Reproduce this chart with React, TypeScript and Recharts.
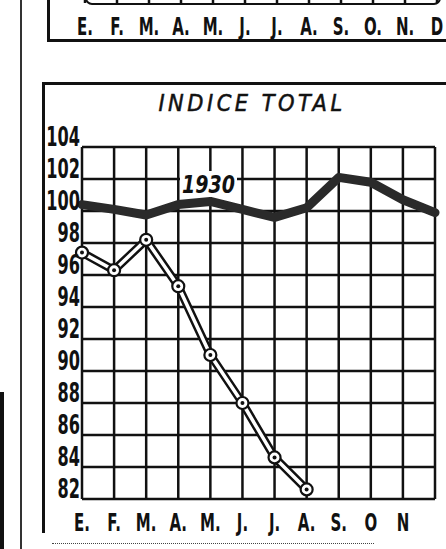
import React from 'react';
import { LineChart, Line, XAxis, YAxis, CartesianGrid } from 'recharts';

const MESES = ['Ene', 'Feb', 'Mar', 'Abr', 'May', 'Jun', 'Jul', 'Ago', 'Sep', 'Oct', 'Nov', 'Dic'];
const ETIQUETAS_SUP = ['E.', 'F.', 'M.', 'A.', 'M.', 'J.', 'J.', 'A.', 'S.', 'O.', 'N.', 'D'];
const ETIQUETAS_INF = ['E.', 'F.', 'M.', 'A.', 'M.', 'J.', 'J.', 'A.', 'S.', 'O', 'N', ''];
const INDICE_1930 = [100.4, 100.1, 99.75, 100.4, 100.6, 100.1, 99.6, 100.2, 102.1, 101.8, 100.7, 99.9];
const INDICE_1931 = [97.4, 96.3, 98.2, 95.3, 91.0, 88.0, 84.6, 82.6, null, null, null, null];
const Y_TICKS = [82, 84, 86, 88, 90, 92, 94, 96, 98, 100, 102, 104];

const datos = MESES.map((mes, i) => ({
  mes,
  a1930: INDICE_1930[i],
  a1931: INDICE_1931[i],
}));

const TINTA = '#111';
const FUENTE = '"DejaVu Sans", sans-serif';

const TickY = ({ x, y, payload }: any) => (
  <g transform={`translate(${x},${y - 10})`}>
    <text
      transform="scale(0.95,1.55)"
      textAnchor="end"
      dominantBaseline="central"
      fontFamily={FUENTE}
      fontWeight="bold"
      fontSize={17}
      fill={TINTA}
    >
      {payload.value}
    </text>
  </g>
);

const tickX = (etiquetas: string[], dy: number) => ({ x, y, payload }: any) => (
  <g transform={`translate(${x},${y + dy})`}>
    <text
      transform="scale(1,1.7)"
      textAnchor="middle"
      dominantBaseline="central"
      fontFamily={FUENTE}
      fontWeight="bold"
      fontSize={15}
      fill={TINTA}
    >
      {etiquetas[MESES.indexOf(payload.value)]}
    </text>
  </g>
);

const Punto = ({ cx, cy, value }: any) => {
  if (value == null || cx == null || cy == null) return null;
  return (
    <g>
      <circle cx={cx} cy={cy} r={6} fill="#fff" stroke={TINTA} strokeWidth={2.2} />
      <circle cx={cx} cy={cy} r={2} fill={TINTA} />
    </g>
  );
};

export default function App() {
  return (
    <div style={{ position: 'absolute', left: 0, top: 0, width: 446, height: 549, overflow: 'hidden', background: '#fff' }}>
      {/* trozo del gráfico anterior */}
      <div style={{ position: 'absolute', left: 0, top: -37 }}>
        <LineChart width={446} height={80} data={datos} margin={{ top: 0, right: 9, bottom: 0, left: 85 }}>
          <CartesianGrid horizontal={false} stroke={TINTA} strokeWidth={2.5} />
          <XAxis
            dataKey="mes"
            scale="point"
            padding={{ left: 0, right: 0 }}
            height={40}
            axisLine={false}
            tickLine={false}
            tickSize={0}
            interval={0}
            tick={tickX(ETIQUETAS_SUP, 21)}
          />
          <YAxis hide domain={[0, 1]} />
        </LineChart>
      </div>
      <div style={{ position: 'absolute', left: 85, top: -20, width: 352, height: 21, border: `2.5px solid ${TINTA}`, borderRadius: '0 0 7px 7px' }} />
      <div style={{ position: 'absolute', left: 47, top: -5, width: 420, height: 44, borderLeft: `3px solid ${TINTA}`, borderBottom: `3px solid ${TINTA}` }} />

      {/* líneas del margen */}
      <div style={{ position: 'absolute', left: 20, top: 0, width: 1.5, height: 549, background: '#333' }} />
      <div style={{ position: 'absolute', left: 0, top: 392, width: 4, height: 157, background: TINTA }} />

      {/* marco del gráfico */}
      <div style={{ position: 'absolute', left: 42, top: 82, width: 420, height: 448, borderLeft: `3px solid ${TINTA}`, borderTop: `3px solid ${TINTA}` }} />
      <div style={{ position: 'absolute', left: 52, top: 543, width: 322, height: 1, borderTop: '1.5px dotted #444' }} />

      <div
        style={{
          position: 'absolute',
          left: 0,
          width: 504,
          top: 91,
          textAlign: 'center',
          fontFamily: FUENTE,
          fontStyle: 'italic',
          fontSize: 21,
          letterSpacing: 3.5,
          color: TINTA,
          WebkitTextStroke: '0.5px #111',
          transform: 'scaleY(1.1)',
        }}
      >
        INDICE TOTAL
      </div>

      <div style={{ position: 'absolute', left: 0, top: 0 }}>
        <LineChart width={446} height={549} data={datos} margin={{ top: 147, right: 11, bottom: 10, left: 42 }}>
          <CartesianGrid stroke={TINTA} strokeWidth={2.5} />
          <XAxis
            dataKey="mes"
            scale="point"
            padding={{ left: 0, right: 0 }}
            height={40}
            axisLine={false}
            tickLine={false}
            tickSize={0}
            interval={0}
            tick={tickX(ETIQUETAS_INF, 21)}
          />
          <YAxis
            type="number"
            domain={[82, 104]}
            ticks={Y_TICKS}
            width={40}
            axisLine={false}
            tickLine={false}
            tickSize={0}
            tickMargin={2}
            interval={0}
            tick={<TickY />}
          />
          <Line
            type="linear"
            dataKey="a1930"
            stroke="#2a2a2a"
            strokeWidth={9}
            strokeLinejoin="round"
            strokeLinecap="round"
            dot={false}
            isAnimationActive={false}
          />
          <Line
            type="linear"
            dataKey="a1931"
            stroke={TINTA}
            strokeWidth={8.5}
            strokeLinejoin="round"
            dot={false}
            isAnimationActive={false}
          />
          <Line
            type="linear"
            dataKey="a1931"
            stroke="#fff"
            strokeWidth={3.5}
            strokeLinejoin="round"
            dot={<Punto />}
            isAnimationActive={false}
          />
        </LineChart>
      </div>

      <div
        style={{
          position: 'absolute',
          left: 180,
          top: 174,
          padding: '0 2px',
          background: '#fff',
          fontFamily: FUENTE,
          fontStyle: 'italic',
          fontWeight: 'bold',
          fontSize: 19,
          lineHeight: '20px',
          color: TINTA,
          transform: 'scaleY(1.3)',
        }}
      >
        1930
      </div>
    </div>
  );
}
